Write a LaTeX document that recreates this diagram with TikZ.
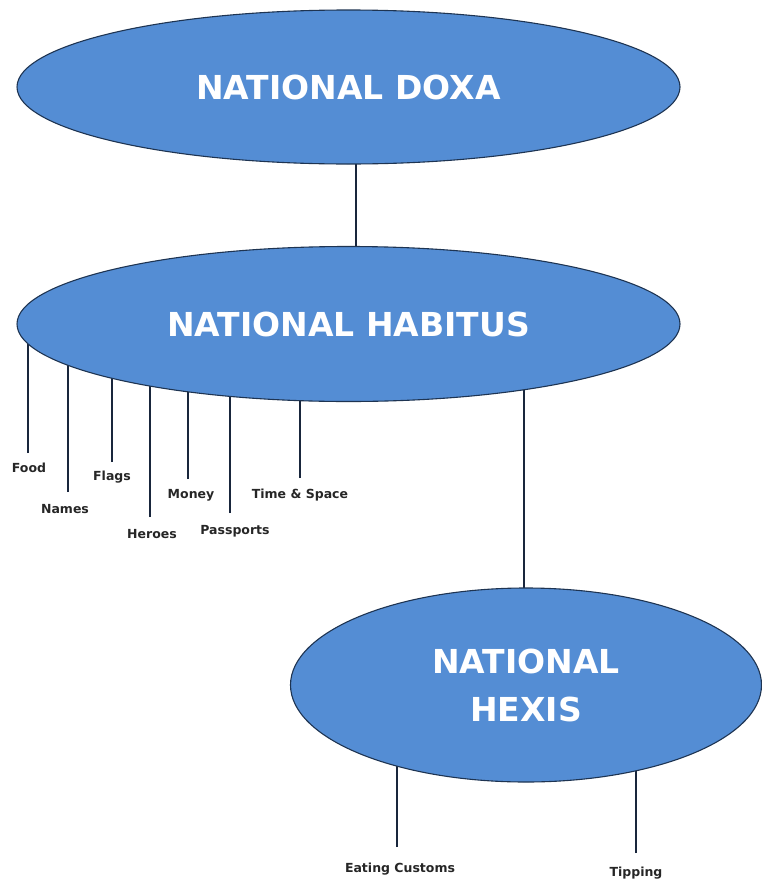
\documentclass[tikz,border=0pt]{standalone}
\usepackage{fontspec}
\setmainfont{DejaVu Sans}
\usetikzlibrary{shapes.geometric,backgrounds}
\definecolor{ovalblue}{RGB}{84,141,212}
\definecolor{ovaledge}{RGB}{30,52,82}
\definecolor{stemline}{RGB}{25,38,60}
\begin{document}
\begin{tikzpicture}[x=1pt,y=-1pt,
    oval/.style={ellipse, draw=ovaledge, line width=1.1pt, fill=ovalblue, inner sep=0pt, text=white, align=center, font=\fontsize{33}{50}\selectfont\bfseries},
    stem/.style={draw=stemline, line width=1.3pt},
    tag/.style={inner sep=0pt, text=black!85, font=\fontsize{12.5}{14}\selectfont\bfseries}]
        \useasboundingbox (0,0) rectangle (762,881);

        \node[oval, minimum width=663pt, minimum height=154pt] (doxa) at (348.5, 87) {NATIONAL DOXA};
        \node[oval, minimum width=663pt, minimum height=155pt] (habitus) at (348.5, 324) {NATIONAL HABITUS};
        \node[oval, minimum width=471pt, minimum height=194pt] (hexis) at (526, 685) {NATIONAL\\[-2pt]HEXIS};

        \node[tag] (food) at (29, 468) {Food};
        \node[tag] (names) at (65, 509) {Names};
        \node[tag] (flags) at (112, 477) {Flags};
        \node[tag] (heroes) at (152, 534) {Heroes};
        \node[tag] (money) at (191, 495) {Money};
        \node[tag] (passports) at (235, 531) {Passports};
        \node[tag] (timespace) at (300, 495) {Time \& Space};
        \node[tag] (eating) at (400, 869) {Eating Customs};
        \node[tag] (tipping) at (636, 873) {Tipping};

        \coordinate (doxalink) at (356, 200);
        \coordinate (foodend) at (28, 453);
        \coordinate (namesend) at (68, 492);
        \coordinate (flagsend) at (112, 462);
        \coordinate (heroesend) at (150, 517);
        \coordinate (moneyend) at (188, 479);
        \coordinate (passportsend) at (230, 513);
        \coordinate (timeend) at (300, 478);
        \coordinate (eatingend) at (397, 847);
        \coordinate (tippingend) at (636, 853);
        \coordinate (hexistop) at (524, 600);

        \begin{scope}[on background layer]
        \draw[stem] (doxalink |- doxa.center) -- (doxalink |- habitus.center);
        \draw[stem] (hexistop) -- (hexistop |- habitus.center);
        \draw[stem] (foodend) -- (foodend |- habitus.center);
        \draw[stem] (namesend) -- (namesend |- habitus.center);
        \draw[stem] (flagsend) -- (flagsend |- habitus.center);
        \draw[stem] (heroesend) -- (heroesend |- habitus.center);
        \draw[stem] (moneyend) -- (moneyend |- habitus.center);
        \draw[stem] (passportsend) -- (passportsend |- habitus.center);
        \draw[stem] (timeend) -- (timeend |- habitus.center);
        \draw[stem] (eatingend) -- (eatingend |- hexis.center);
        \draw[stem] (tippingend) -- (tippingend |- hexis.center);
        \end{scope}

    \end{tikzpicture}
\end{document}
